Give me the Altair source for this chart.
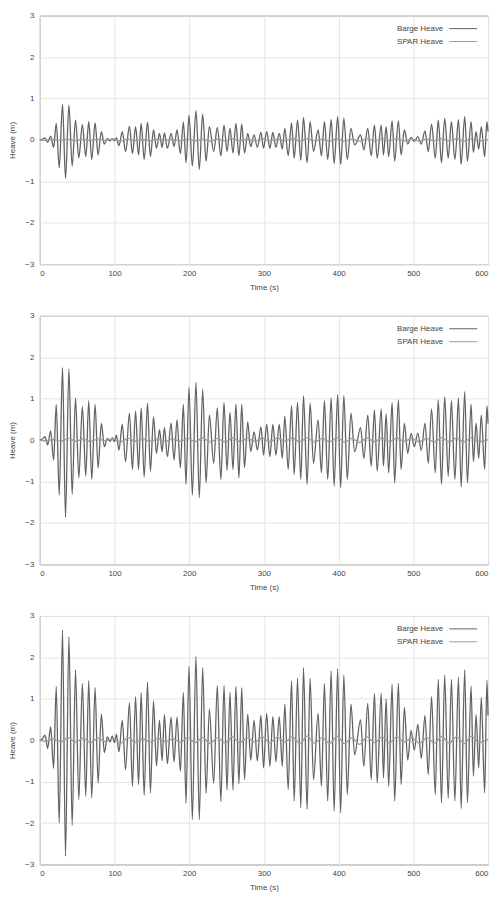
import altair as alt
import pandas as pd

# extrema times (s) of the barge heave record, shared by the three panels
T = [0, 3, 7, 10.5, 14.5, 18.5, 22, 26, 30.4, 34.4, 39, 43.3, 47.8, 52.2, 57, 61.5, 65.5, 69.5, 74, 78,
     82.4, 86.4, 90.4, 94, 97, 100, 102.5, 106, 110.4, 114.8, 120, 124, 128.2, 132.2, 135.7, 139.7, 144.2, 148.1,
     152.2, 156.2, 160.2, 163.7, 166.8, 170.8, 175.7, 179.7, 183.7, 188.2, 192.2, 195.7, 199.7, 204.2, 209, 213.5,
     218, 222.6, 227, 232.8, 237.6, 242.4, 246.6, 250.6, 254.6, 258.6, 262.5, 266.5, 270.3, 274, 278.3, 282.4,
     286.8, 291.2, 296, 299.5, 303.7, 308, 312, 316, 320.5, 324.6, 328, 332.5, 337, 340.5, 345, 349.4, 353, 357.8,
     361.8, 366.4, 372.5, 377, 381, 385.4, 390, 394, 398.7, 402.7, 407, 411.6, 416.5, 421.4, 429.4, 433.8, 439,
     443.6, 448, 451.6, 457, 460, 463.6, 467, 471.6, 475, 480, 483.6, 488, 492.5, 497, 501.4, 506, 510.7, 515.6,
     520, 524.4, 529.4, 533.4, 537.7, 542, 546.7, 551, 555.6, 560.4, 564, 568.8, 572.4, 577.3, 580.4, 584, 587.5,
     591, 595.5, 598.5, 600]

BARGE_BOT = [0, 0.02, 0.12, -0.2, 0.32, -0.68, 1.3, -2.0, 2.66, -2.8, 2.5, -2.05, 1.7, -1.43, 1.37, -1.35, 1.44, -1.39, 1.27, -1.03,
             0.63, -0.3, 0.08, -0.04, 0.1, -0.06, 0.14, -0.28, 0.48, -0.71, 0.91, -1.11, 1.05, -1.07, 1.15, -1.33, 1.4, -1.27,
             0.95, -0.62, 0.48, -0.5, 0.62, -0.57, 0.56, -0.52, 0.56, -0.75, 1.15, -1.52, 1.78, -1.92, 2.02, -1.92,
             1.75, -1.28, 0.75, -1.04, 1.32, -1.48, 1.32, -1.2, 1.15, -1.2, 1.3, -1.05, 1.27, -0.95, 0.63, -0.48,
             0.48, -0.5, 0.6, -0.67, 0.65, -0.63, 0.57, -0.52, 0.57, -0.63, 0.87, -1.19, 1.43, -1.47, 1.5, -1.63, 1.75, -1.67,
             1.49, -0.95, 0.65, -1.11, 1.37, -1.47, 1.67, -1.71, 1.72, -1.75, 1.57, -1.31, 0.87, -0.35, 0.49, -0.63, 0.89,
             -0.95, 1.13, -1.03, 1.13, -0.91, 1.0, -1.11, 1.35, -1.47, 1.37, -1.07, 0.79, -0.48, 0.24, -0.24, 0.38, -0.44, 0.6,
             -0.83, 1.05, -1.31, 1.47, -1.51, 1.57, -1.4, 1.47, -1.47, 1.52, -1.65, 1.7, -1.51, 1.31, -0.87, 0.62, -0.67,
             1.03, -1.27, 1.45, 0.6]

BARGE_MID = [0, 0.02, 0.08, -0.12, 0.22, -0.48, 0.86, -1.33, 1.75, -1.87, 1.72, -1.31, 1.02, -0.91, 0.81, -0.87, 0.95, -0.95, 0.86, -0.67,
             0.4, -0.16, 0.04, -0.03, 0.05, -0.04, 0.12, -0.24, 0.38, -0.52, 0.65, -0.71, 0.7, -0.71, 0.78, -0.89, 0.89, -0.75,
             0.56, -0.32, 0.25, -0.28, 0.3, -0.4, 0.41, -0.48, 0.49, -0.67, 0.86, -1.07, 1.27, -1.33, 1.39, -1.39,
             1.23, -1.03, 0.6, -0.56, 0.78, -0.95, 0.91, -0.73, 0.67, -0.71, 0.87, -0.91, 0.86, -0.67, 0.44, -0.28,
             0.2, -0.24, 0.32, -0.36, 0.38, -0.4, 0.38, -0.36, 0.38, -0.44, 0.57, -0.71, 0.83, -0.83, 0.91, -0.95, 1.07, -1.07,
             0.89, -0.56, 0.49, -0.79, 0.95, -0.95, 1.02, -1.11, 1.1, -1.15, 1.07, -0.95, 0.65, -0.28, 0.3, -0.44, 0.6,
             -0.63, 0.73, -0.75, 0.75, -0.63, 0.63, -0.79, 0.91, -1.03, 0.97, -0.71, 0.4, -0.32, 0.16, -0.16, 0.17, -0.25, 0.41,
             -0.56, 0.75, -0.79, 0.97, -1.07, 1.05, -0.87, 0.95, -0.95, 1.02, -1.13, 1.17, -1.03, 0.87, -0.52, 0.41, -0.44,
             0.6, -0.71, 0.83, 0.4]

BARGE_TOP = [0, 0.01, 0.05, -0.06, 0.09, -0.18, 0.4, -0.67, 0.86, -0.93, 0.84, -0.63, 0.48, -0.43, 0.37, -0.4, 0.44, -0.47, 0.41, -0.36,
             0.2, -0.1, 0.03, -0.02, 0.03, -0.02, 0.05, -0.14, 0.2, -0.28, 0.33, -0.33, 0.32, -0.36, 0.4, -0.47, 0.43, -0.4,
             0.24, -0.2, 0.16, -0.18, 0.17, -0.2, 0.16, -0.16, 0.24, -0.33, 0.43, -0.55, 0.59, -0.63, 0.71, -0.71,
             0.62, -0.51, 0.32, -0.28, 0.3, -0.38, 0.36, -0.28, 0.28, -0.32, 0.4, -0.38, 0.38, -0.32, 0.16, -0.16,
             0.12, -0.18, 0.18, -0.2, 0.2, -0.2, 0.18, -0.18, 0.16, -0.22, 0.28, -0.38, 0.41, -0.44, 0.48, -0.49, 0.54, -0.55,
             0.44, -0.28, 0.24, -0.38, 0.44, -0.47, 0.49, -0.57, 0.56, -0.59, 0.52, -0.47, 0.28, -0.12, 0.12, -0.24, 0.28,
             -0.38, 0.36, -0.44, 0.36, -0.36, 0.32, -0.4, 0.46, -0.51, 0.46, -0.36, 0.24, -0.1, 0.06, -0.04, 0.08, -0.1, 0.22,
             -0.28, 0.38, -0.44, 0.48, -0.55, 0.52, -0.44, 0.44, -0.47, 0.49, -0.59, 0.56, -0.51, 0.44, -0.3, 0.2, -0.22,
             0.32, -0.4, 0.44, 0.2]

# SPAR heave: slow, small oscillation
SPAR_T = [0, 8, 18, 28, 38, 48, 58, 68, 78, 88, 98, 108, 118, 128, 138, 148, 158, 168, 178, 188,
          198, 208, 218, 228, 238, 248, 258, 268, 278, 288, 298, 308, 318, 328, 338, 348, 358, 368, 378, 388,
          398, 408, 418, 428, 438, 448, 458, 468, 478, 488, 498, 508, 518, 528, 538, 548, 558, 568, 578, 588, 600]

SPAR_BOT = [0, -0.03, 0.04, -0.04, 0.06, -0.05, 0.05, -0.06, 0.05, -0.04, 0.05, -0.08, 0.06, -0.05, 0.04, -0.05, 0.05, -0.04, 0.04, -0.05,
            0.06, -0.06, 0.07, -0.08, 0.06, -0.07, 0.08, -0.06, 0.06, -0.05, 0.08, -0.06, 0.07, -0.05, 0.08, -0.08, 0.1, -0.07, 0.06, -0.08,
            0.1, -0.08, 0.06, -0.1, 0.08, -0.06, 0.08, -0.06, 0.08, -0.05, 0.06, -0.08, 0.06, -0.07, 0.09, -0.07, 0.08, -0.08, 0.1, -0.06, 0.02]

SPAR_MID = [0, -0.02, 0.02, -0.03, 0.04, -0.03, 0.03, -0.04, 0.03, -0.02, 0.03, -0.05, 0.04, -0.03, 0.03, -0.03, 0.03, -0.03, 0.03, -0.03,
            0.04, -0.04, 0.05, -0.05, 0.04, -0.05, 0.05, -0.04, 0.04, -0.03, 0.05, -0.04, 0.05, -0.03, 0.05, -0.05, 0.06, -0.05, 0.04, -0.05,
            0.06, -0.05, 0.04, -0.06, 0.05, -0.04, 0.05, -0.04, 0.05, -0.03, 0.04, -0.05, 0.04, -0.05, 0.06, -0.05, 0.05, -0.05, 0.06, -0.04, 0.01]

SPAR_TOP = [0, -0.01, 0.01, -0.01, 0.02, -0.02, 0.02, -0.02, 0.02, -0.01, 0.02, -0.03, 0.02, -0.02, 0.01, -0.02, 0.02, -0.01, 0.01, -0.02,
            0.02, -0.02, 0.02, -0.03, 0.02, -0.02, 0.03, -0.02, 0.02, -0.02, 0.03, -0.02, 0.02, -0.02, 0.03, -0.03, 0.03, -0.02, 0.02, -0.03,
            0.03, -0.03, 0.02, -0.03, 0.03, -0.02, 0.03, -0.02, 0.03, -0.02, 0.02, -0.03, 0.02, -0.02, 0.03, -0.02, 0.03, -0.03, 0.03, -0.02, 0.01]

SERIES = ["Barge Heave", "SPAR Heave"]
COLORS = ["#626262", "#9c9c9c"]
X_TICKS = [0, 100, 200, 300, 400, 500, 600]
Y_TICKS = [-3, -2, -1, 0, 1, 2, 3]

FONT = "Liberation Sans"
W, H = 451, 250


def legend_layers():
    layers = []
    for i, (name, col) in enumerate(zip(SERIES, COLORS)):
        src = alt.Chart(pd.DataFrame({"series": [name]}))
        ypix = 13 + 13 * i
        layers.append(src.mark_text(align="right", baseline="middle", font=FONT, fontSize=8, color="#444444")
                      .encode(text="series:N", x=alt.value(406), y=alt.value(ypix)))
        layers.append(src.mark_rule(color=col, strokeWidth=1)
                      .encode(x=alt.value(412), x2=alt.value(440), y=alt.value(ypix)))
    return layers


def panel(barge, spar):
    df = pd.DataFrame({
        "t": T + SPAR_T,
        "v": barge + spar,
        "series": [SERIES[0]] * len(T) + [SERIES[1]] * len(SPAR_T),
    })
    lines = alt.Chart(df).mark_line(strokeWidth=1.3, interpolate="monotone").encode(
        x=alt.X("t:Q", title="Time (s)",
                scale=alt.Scale(domain=[0, 600], nice=False, zero=False),
                axis=alt.Axis(values=X_TICKS, labelPadding=5, titlePadding=6)),
        y=alt.Y("v:Q", title="Heave (m)",
                scale=alt.Scale(domain=[-3, 3], nice=False),
                axis=alt.Axis(values=Y_TICKS, labelPadding=6, titlePadding=8)),
        color=alt.Color("series:N", scale=alt.Scale(domain=SERIES, range=COLORS), legend=None),
    )
    return alt.layer(lines, *legend_layers()).properties(width=W, height=H)


chart = alt.vconcat(
    panel(BARGE_TOP, SPAR_TOP),
    panel(BARGE_MID, SPAR_MID),
    panel(BARGE_BOT, SPAR_BOT),
    spacing=19,
).properties(
    padding={"left": 0, "top": 0, "right": 0, "bottom": 0}
).configure_view(
    stroke="#707070", strokeWidth=1
).configure_axis(
    grid=True, gridColor="#e4e4e4", gridWidth=1, domain=False, ticks=False,
    labelFont=FONT, titleFont=FONT, labelFontSize=8, titleFontSize=8,
    labelColor="#444444", titleColor="#444444", titleFontWeight="normal"
)

chart.save("out.html", embed_options={"renderer": "svg", "actions": False})
